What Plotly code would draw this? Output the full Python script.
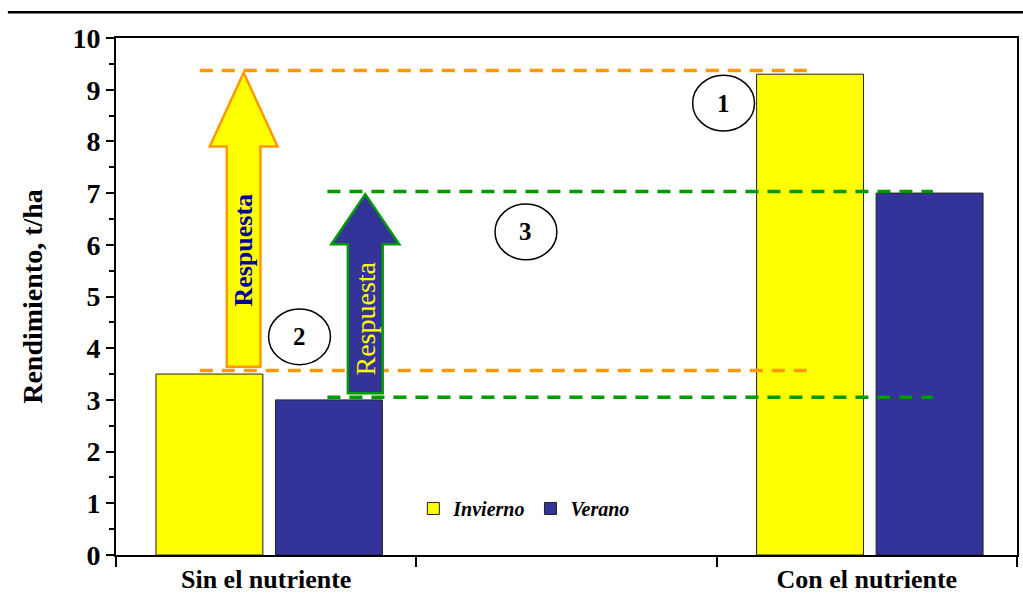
import plotly.graph_objects as go

categories = ["Sin el nutriente", " ", "Con el nutriente"]
series_names = ["Invierno", "Verano"]
invierno = [3.5, None, 9.3]
verano = [3.0, None, 7.0]
y_ticks = list(range(0, 11))

orange_levels = [3.57, 9.37]
green_levels = [3.05, 7.03]
circle_labels = ["1", "2", "3"]

YELLOW = "#FFFF00"
NAVY = "#333399"
ORANGE = "#FF9900"
GREEN = "#009900"
SERIF = "Liberation Serif, Times New Roman, serif"

fig = go.Figure()
fig.add_trace(go.Bar(x=categories, y=invierno, name=series_names[0], width=0.356, offset=-0.367,
                     marker=dict(color=YELLOW, line=dict(color="#222222", width=1))))
fig.add_trace(go.Bar(x=categories, y=verano, name=series_names[1], width=0.356, offset=0.031,
                     marker=dict(color=NAVY, line=dict(color="#222222", width=1))))

shapes = []
# page top rule
shapes.append(dict(type="line", xref="paper", yref="paper", x0=-0.12, x1=1.01, y0=1.05, y1=1.05,
                   line=dict(color="black", width=2.5)))
# dashed reference lines
for lv in orange_levels:
    shapes.append(dict(type="line", xref="x", yref="y", x0=-0.221, x1=1.80, y0=lv, y1=lv,
                       line=dict(color=ORANGE, width=3.5, dash="13px,9px")))
for lv in green_levels:
    shapes.append(dict(type="line", xref="x", yref="y", x0=0.204, x1=2.22, y0=lv, y1=lv,
                       line=dict(color=GREEN, width=3.5, dash="13px,9px")))


def arrow_path(cx, base, tip, shaft_hw, head_hw, head_len):
    hb = tip - head_len
    pts = [(cx - shaft_hw, base), (cx - shaft_hw, hb), (cx - head_hw, hb), (cx, tip),
           (cx + head_hw, hb), (cx + shaft_hw, hb), (cx + shaft_hw, base)]
    return "M " + " L ".join(f"{x},{y}" for x, y in pts) + " Z"


shapes.append(dict(type="path", xref="x", yref="y",
                   path=arrow_path(-0.075, invierno[0] + 0.14, orange_levels[1] - 0.04, 0.056, 0.113, 1.43),
                   fillcolor=YELLOW, line=dict(color=ORANGE, width=2.5), layer="above"))
shapes.append(dict(type="path", xref="x", yref="y",
                   path=arrow_path(0.33, verano[0] + 0.13, green_levels[1] - 0.05, 0.058, 0.113, 0.97),
                   fillcolor=NAVY, line=dict(color=GREEN, width=2.5), layer="above"))

circle_pos = [(1.523, 8.74), (0.111, 4.22), (0.865, 6.25)]
for (cx, cy) in circle_pos:
    shapes.append(dict(type="circle", xref="x", yref="y", x0=cx - 0.103, x1=cx + 0.103,
                       y0=cy - 0.54, y1=cy + 0.54, line=dict(color="black", width=1.5)))

annotations = []
for (cx, cy), lab in zip(circle_pos, circle_labels):
    annotations.append(dict(x=cx, y=cy, xref="x", yref="y", text=f"<b>{lab}</b>", showarrow=False,
                            font=dict(family=SERIF, size=25, color="black")))
annotations.append(dict(x=-0.075, y=5.9, xref="x", yref="y", text="<b>Respuesta</b>", showarrow=False,
                        textangle=-90, font=dict(family=SERIF, size=26, color="#000099")))
annotations.append(dict(x=0.33, y=4.58, xref="x", yref="y", text="Respuesta", showarrow=False,
                        textangle=-90, font=dict(family=SERIF, size=28, color=YELLOW)))

fig.update_layout(
    width=1023, height=614,
    margin=dict(l=116, r=4, t=38, b=59),
    paper_bgcolor="white", plot_bgcolor="white",
    barmode="group",
    shapes=shapes, annotations=annotations,
    showlegend=True,
    legend=dict(orientation="h", x=0.33, y=0.09, xanchor="left", yanchor="middle",
                bgcolor="rgba(0,0,0,0)",
                font=dict(family=SERIF, size=20, color="black", weight="bold", style="italic")),
    xaxis=dict(type="category", tickson="boundaries", ticks="outside", ticklen=10, tickwidth=2,
               tickcolor="black", showline=True, linecolor="black", linewidth=2, mirror=True,
               showgrid=False, tickfont=dict(family=SERIF, size=26, color="black", weight="bold"),
               range=[-0.5, 2.5]),
    yaxis=dict(range=[0, 10], tickvals=y_ticks, ticks="outside", ticklen=8, tickwidth=2,
               tickcolor="black", showline=True, linecolor="black", linewidth=2, mirror=True,
               showgrid=False, zeroline=False,
               minor=dict(dtick=0.5, ticks="outside", ticklen=5, tickwidth=1.5, tickcolor="black"),
               tickfont=dict(family=SERIF, size=28, color="black", weight="bold"),
               title=dict(text="Rendimiento, t/ha", standoff=22,
                          font=dict(family=SERIF, size=28, color="black", weight="bold"))),
)

fig.write_html("out.html")
